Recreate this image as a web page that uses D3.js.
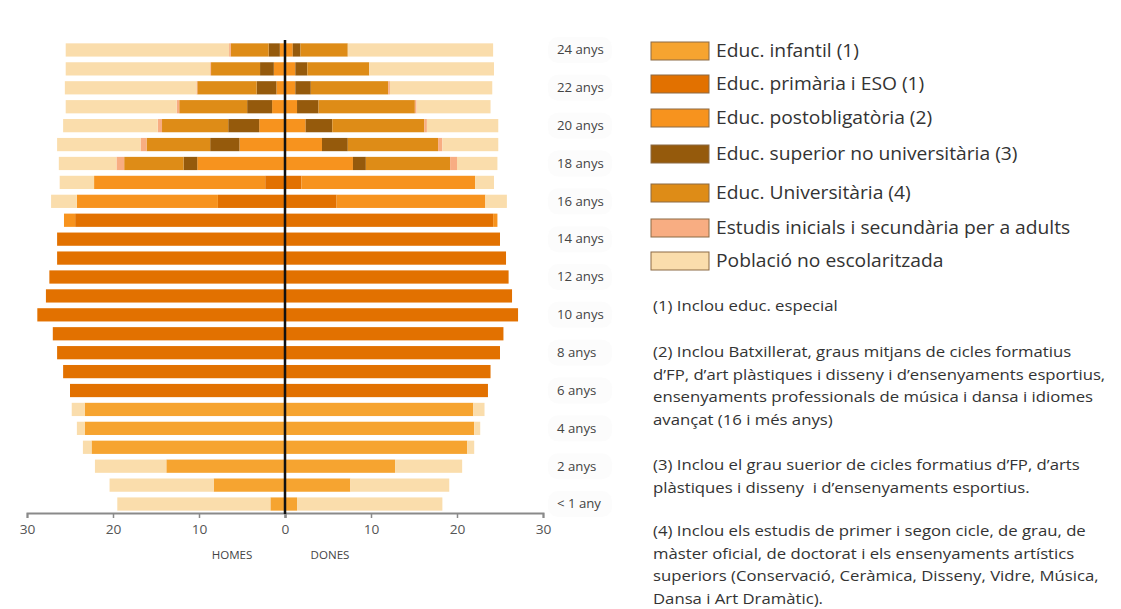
<!DOCTYPE html>
<html><head><meta charset="utf-8">
<script src="https://cdn.jsdelivr.net/npm/d3@7"></script>
<style>
body{margin:0;background:#fff;}
svg{display:block;font-family:"Open Sans",sans-serif;}
</style></head>
<body><svg id="c" width="1121" height="609"></svg>
<script>
// Rows from top (24 anys) to bottom (< 1 any)
const ages = [24,23,22,21,20,19,18,17,16,15,14,13,12,11,10,9,8,7,6,5,4,3,2,1,0];
const ageLabels = {24:"24 anys",22:"22 anys",20:"20 anys",18:"18 anys",16:"16 anys",14:"14 anys",12:"12 anys",10:"10 anys",8:"8 anys",6:"6 anys",4:"4 anys",2:"2 anys",0:"< 1 any"};
const seriesNames = ["Educ. infantil (1)","Educ. primària i ESO (1)","Educ. postobligatòria (2)","Educ. superior no universitària (3)","Educ. Universitària (4)","Estudis inicials i secundària per a adults","Població no escolaritzada"];
const seriesColors = ["#F6A430","#E27100","#F7931E","#955A0C","#DE8C17","#F8AD82","#FADDAC"];
const xTicks = [0,10,20,30];

// HOMES (men), values per row (24 .. 0)
const menInfantil = [0,0,0,0,0,0,0,0,0,0,0,0,0,0,0,0,0,0,0,23.3,23.3,22.5,13.8,8.3,1.7];
const menPrimaria = [0,0,0,0,0,0,0,2.3,7.8,24.4,26.5,26.5,27.4,27.8,28.8,27.0,26.5,25.8,25.0,0,0,0,0,0,0];
const menPostob   = [0.6,1.3,1.0,1.5,3.0,5.3,10.2,19.9,16.4,1.3,0,0,0,0,0,0,0,0,0,0,0,0,0,0,0];
const menSuperior = [1.3,1.6,2.3,2.9,3.6,3.4,1.6,0,0,0,0,0,0,0,0,0,0,0,0,0,0,0,0,0,0];
const menUniv     = [4.4,5.7,6.9,7.9,7.7,7.4,6.9,0,0,0,0,0,0,0,0,0,0,0,0,0,0,0,0,0,0];
const menAdults   = [0.2,0.1,0.1,0.3,0.5,0.7,0.9,0,0,0,0,0,0,0,0,0,0,0,0,0,0,0,0,0,0];
const menNoEsc    = [19.0,16.8,15.3,12.9,11.0,9.7,6.7,4.0,3.0,0,0,0,0,0,0,0,0,0,0,1.5,0.9,1.0,8.3,12.1,17.8];

// DONES (women)
const womenInfantil = [0,0,0,0,0,0,0,0,0,0,0,0,0,0,0,0,0,0,0,21.9,22.0,21.2,12.8,7.6,1.4];
const womenPrimaria = [0,0,0,0,0,0,0,1.9,6.0,24.2,25.0,25.7,26.0,26.4,27.1,25.4,25.0,23.9,23.6,0,0,0,0,0,0];
const womenPostob   = [0.9,1.2,1.2,1.4,2.4,4.3,7.9,20.2,17.3,0.5,0,0,0,0,0,0,0,0,0,0,0,0,0,0,0];
const womenSuperior = [0.9,1.4,1.8,2.5,3.1,3.0,1.5,0,0,0,0,0,0,0,0,0,0,0,0,0,0,0,0,0,0];
const womenUniv     = [5.5,7.2,9.0,11.2,10.7,10.5,9.8,0,0,0,0,0,0,0,0,0,0,0,0,0,0,0,0,0,0];
const womenAdults   = [0,0,0.2,0.2,0.3,0.5,0.8,0,0,0,0,0,0,0,0,0,0,0,0,0,0,0,0,0,0];
const womenNoEsc    = [16.9,14.5,11.9,8.6,8.3,6.5,4.7,2.2,2.5,0,0,0,0,0,0,0,0,0,0,1.3,0.7,0.8,7.8,11.5,16.9];

const footnotes = [
  ["(1) Inclou educ. especial"],
  ["(2) Inclou Batxillerat, graus mitjans de cicles formatius","d’FP, d’art plàstiques i disseny i d’ensenyaments esportius,","ensenyaments professionals de música i dansa i idiomes","avançat (16 i més anys)"],
  ["(3) Inclou el grau suerior de cicles formatius d’FP, d’arts","plàstiques i disseny  i d’ensenyaments esportius."],
  ["(4) Inclou els estudis de primer i segon cicle, de grau, de","màster oficial, de doctorat i els ensenyaments artístics","superiors (Conservació, Ceràmica, Disseny, Vidre, Música,","Dansa i Art Dramàtic)."]
];

const menSeries = [menInfantil,menPrimaria,menPostob,menSuperior,menUniv,menAdults,menNoEsc];
const womenSeries = [womenInfantil,womenPrimaria,womenPostob,womenSuperior,womenUniv,womenAdults,womenNoEsc];

const svg = d3.select("#c");
const cx = 285;
const xMen = d3.scaleLinear().domain([0,30]).range([cx, 27]);
const xWomen = d3.scaleLinear().domain([0,30]).range([cx, 543]);
const y = d3.scaleBand().domain(ages).range([40.5, 513.5]).paddingInner(0.3).paddingOuter(0.15);
const SX = 1.1; // horizontal stretch of the text in the reference

function stext(sel, x, yy, size){
  return sel.append("text").attr("transform",`translate(${x},${yy}) scale(${SX},1)`)
    .attr("font-size",size).style("white-space","pre");
}

function buildRows(series){
  return ages.map((a,i)=>{
    let acc=0; const segs=[];
    series.forEach((s,k)=>{ const v=s[i]; if(v>0){segs.push({age:a,k,v0:acc,v1:acc+v});} acc+=v; });
    return segs;
  }).flat();
}
const menSegs = buildRows(menSeries);
const womenSegs = buildRows(womenSeries);

const gBars = svg.append("g");
gBars.selectAll("rect.m").data(menSegs).join("rect").attr("class","m")
  .attr("x", d=>xMen(d.v1)).attr("width", d=>xMen(d.v0)-xMen(d.v1))
  .attr("y", d=>y(d.age)).attr("height", y.bandwidth())
  .attr("fill", d=>seriesColors[d.k]);
gBars.selectAll("rect.w").data(womenSegs).join("rect").attr("class","w")
  .attr("x", d=>xWomen(d.v0)).attr("width", d=>xWomen(d.v1)-xWomen(d.v0))
  .attr("y", d=>y(d.age)).attr("height", y.bandwidth())
  .attr("fill", d=>seriesColors[d.k]);

// axes
const axisY = 513;
const gm = svg.append("g").attr("transform",`translate(0,${axisY})`)
  .call(d3.axisBottom(xMen).tickValues(xTicks).tickSize(5).tickFormat(d3.format("d")));
const gw = svg.append("g").attr("transform",`translate(0,${axisY})`)
  .call(d3.axisBottom(xWomen).tickValues(xTicks.filter(t=>t>0)).tickSize(5).tickFormat(d3.format("d")));
[gm,gw].forEach(g=>{
  g.select(".domain").attr("stroke","#8a8a8a").attr("stroke-width",2);
  g.selectAll(".tick line").attr("stroke","#8a8a8a").attr("stroke-width",1.5);
  g.selectAll(".tick text").attr("fill","#555").attr("font-size",12.5).attr("font-family","Open Sans")
    .attr("y",0).attr("dy",0).attr("transform",`translate(0,21) scale(${SX},1)`);
});

// center line
svg.append("line").attr("x1",cx).attr("x2",cx).attr("y1",40).attr("y2",axisY+1)
  .attr("stroke","#111").attr("stroke-width",2.5);

stext(svg,232,559,10.5).attr("text-anchor","middle").attr("fill","#444").text("HOMES");
stext(svg,330,559,10.5).attr("text-anchor","middle").attr("fill","#444").text("DONES");

// age labels
const labAges = ages.filter(a=>ageLabels[a]!==undefined);
svg.selectAll("rect.lb").data(labAges).join("rect").attr("class","lb")
  .attr("x",548).attr("y",a=>y(a)+y.bandwidth()/2-13).attr("width",64).attr("height",26).attr("rx",10)
  .attr("fill","#fcfcfc");
labAges.forEach(a=>{
  stext(svg,557,y(a)+y.bandwidth()/2+4.3,12).attr("fill","#444").text(ageLabels[a]);
});

// legend
const legY = [51,84,118,154,193,228,261];
const lg = svg.append("g");
seriesNames.forEach((n,i)=>{
  lg.append("rect").attr("x",651).attr("y",legY[i]-9).attr("width",58).attr("height",18)
    .attr("fill",seriesColors[i]).attr("stroke","#8c6a45").attr("stroke-width",1);
  stext(lg,716,legY[i]+6.2,17.5).attr("fill","#333").text(n);
});

// footnotes
const fnStart = [306,352,465,531];
footnotes.forEach((lines,i)=>{
  lines.forEach((l,j)=>{
    stext(svg,653,fnStart[i]+j*22.6+5.2,15.2).attr("fill","#333").text(l);
  });
});
</script></body></html>
